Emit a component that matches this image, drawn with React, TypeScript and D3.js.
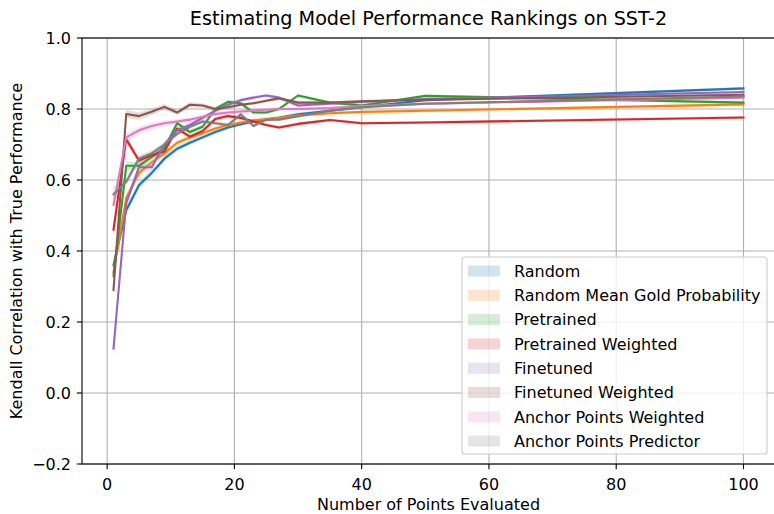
import React from "react";
import * as d3 from "d3";

const W = 774;
const H = 514;

const xValues = [1, 3, 5, 7, 9, 11, 13, 15, 17, 19, 21, 23, 25, 27, 30, 35, 40, 50, 100];

const seriesNames = [
  "Random",
  "Random Mean Gold Probability",
  "Pretrained",
  "Pretrained Weighted",
  "Finetuned",
  "Finetuned Weighted",
  "Anchor Points Weighted",
  "Anchor Points Predictor",
];

const seriesColors = ["#1f77b4", "#ff7f0e", "#2ca02c", "#d62728", "#9467bd", "#8c564b", "#e377c2", "#7f7f7f"];

const randomVals = [0.36, 0.515, 0.585, 0.62, 0.66, 0.688, 0.705, 0.72, 0.735, 0.748, 0.757, 0.765, 0.77, 0.775, 0.785, 0.795, 0.805, 0.825, 0.858];
const randomGoldVals = [0.34, 0.55, 0.62, 0.65, 0.675, 0.705, 0.72, 0.732, 0.745, 0.755, 0.762, 0.768, 0.772, 0.775, 0.782, 0.788, 0.792, 0.795, 0.813];
const pretrainedVals = [0.33, 0.64, 0.64, 0.665, 0.69, 0.76, 0.735, 0.75, 0.8, 0.82, 0.816, 0.79, 0.79, 0.8, 0.838, 0.818, 0.81, 0.837, 0.818];
const pretrainedWVals = [0.46, 0.715, 0.655, 0.67, 0.68, 0.745, 0.722, 0.738, 0.772, 0.78, 0.775, 0.765, 0.755, 0.748, 0.758, 0.769, 0.76, 0.762, 0.776];
const finetunedVals = [0.125, 0.535, 0.636, 0.636, 0.7, 0.74, 0.755, 0.775, 0.795, 0.812, 0.825, 0.832, 0.838, 0.832, 0.81, 0.815, 0.82, 0.828, 0.848];
const finetunedWVals = [0.29, 0.786, 0.78, 0.792, 0.806, 0.79, 0.812, 0.81, 0.8, 0.805, 0.812, 0.816, 0.823, 0.83, 0.818, 0.818, 0.822, 0.826, 0.84];
const anchorWVals = [0.53, 0.72, 0.74, 0.752, 0.76, 0.765, 0.77, 0.778, 0.786, 0.79, 0.793, 0.796, 0.798, 0.8, 0.8, 0.803, 0.808, 0.815, 0.832];
const anchorPVals = [0.56, 0.595, 0.66, 0.675, 0.7, 0.73, 0.75, 0.765, 0.76, 0.755, 0.785, 0.752, 0.77, 0.77, 0.78, 0.795, 0.805, 0.815, 0.835];

const bandHalfWidth = [0.02, 0.012, 0.01, 0.009, 0.008, 0.007, 0.007, 0.006, 0.006, 0.006, 0.005, 0.005, 0.005, 0.005, 0.005, 0.004, 0.004, 0.004, 0.004];

const allSeries = [randomVals, randomGoldVals, pretrainedVals, pretrainedWVals, finetunedVals, finetunedWVals, anchorWVals, anchorPVals];

const xTicks = [0, 20, 40, 60, 80, 100];
const yTicks = [-0.2, 0.0, 0.2, 0.4, 0.6, 0.8, 1.0];

const title = "Estimating Model Performance Rankings on SST-2";
const xLabel = "Number of Points Evaluated";
const yLabel = "Kendall Correlation with True Performance";

export default function App() {
  const left = 82, right = 775, top = 38, bottom = 464;
  const x = d3.scaleLinear().domain([-3.95, 104.95]).range([left, right]);
  const y = d3.scaleLinear().domain([-0.2, 1.0]).range([bottom, top]);
  const font = "DejaVu Sans, sans-serif";
  const fs = 16;

  const line = d3.line<number>().x((_, i) => x(xValues[i])).y((v) => y(v));
  const area = d3
    .area<number>()
    .x((_, i) => x(xValues[i]))
    .y0((v, i) => y(v - bandHalfWidth[i]))
    .y1((v, i) => y(v + bandHalfWidth[i]));

  const legX = 462, legY = 257, legW = 305, legH = 197;
  const rowStep = 24.3;

  return (
    <svg width={W} height={H} style={{ position: "absolute", left: 0, top: 0 }} fontFamily={font}>
      <rect x={0} y={0} width={W} height={H} fill="#fff" />
      <defs>
        <clipPath id="plotclip">
          <rect x={left} y={top} width={right - left} height={bottom - top} />
        </clipPath>
      </defs>
      {xTicks.map((t) => (
        <line key={"gx" + t} x1={x(t)} x2={x(t)} y1={top} y2={bottom} stroke="#b0b0b0" strokeWidth={1.1} />
      ))}
      {yTicks.map((t) => (
        <line key={"gy" + t} x1={left} x2={right} y1={y(t)} y2={y(t)} stroke="#b0b0b0" strokeWidth={1.1} />
      ))}
      <g clipPath="url(#plotclip)">
        {allSeries.map((s, k) => (
          <path key={"a" + k} d={area(s) || ""} fill={seriesColors[k]} fillOpacity={0.2} stroke="none" />
        ))}
        {allSeries.map((s, k) => (
          <path key={"l" + k} d={line(s) || ""} fill="none" stroke={seriesColors[k]} strokeWidth={2.1} strokeLinejoin="round" strokeLinecap="square" />
        ))}
      </g>
      <rect x={left} y={top} width={right - left} height={bottom - top} fill="none" stroke="#000" strokeWidth={1.1} />
      {xTicks.map((t) => (
        <g key={"tx" + t}>
          <line x1={x(t)} x2={x(t)} y1={bottom} y2={bottom + 5.2} stroke="#000" strokeWidth={1.1} />
          <text x={x(t)} y={bottom + 26} textAnchor="middle" fontSize={fs} fill="#000">
            {d3.format("d")(t)}
          </text>
        </g>
      ))}
      {yTicks.map((t) => (
        <g key={"ty" + t}>
          <line x1={left - 5.2} x2={left} y1={y(t)} y2={y(t)} stroke="#000" strokeWidth={1.1} />
          <text x={left - 11} y={y(t) + 5.8} textAnchor="end" fontSize={fs} fill="#000">
            {t < 0 ? "\u2212" + Math.abs(t).toFixed(1) : t.toFixed(1)}
          </text>
        </g>
      ))}
      <text x={(left + right) / 2} y={25} textAnchor="middle" fontSize={19.2} fill="#000">
        {title}
      </text>
      <text x={(left + right) / 2} y={510} textAnchor="middle" fontSize={fs} fill="#000">
        {xLabel}
      </text>
      <text transform={`translate(21.5, ${(top + bottom) / 2}) rotate(-90)`} textAnchor="middle" fontSize={fs} fill="#000">
        {yLabel}
      </text>
      <rect x={legX} y={legY} width={legW} height={legH} rx={3} fill="#fff" fillOpacity={0.8} stroke="#cccccc" strokeWidth={1.1} />
      {seriesNames.map((name, k) => {
        const cy = legY + 14 + k * rowStep;
        return (
          <g key={"lg" + k}>
            <rect x={468} y={cy - 5.5} width={32} height={11} fill={seriesColors[k]} fillOpacity={0.2} />
            <text x={514} y={cy + 5.8} fontSize={fs} fill="#000">
              {name}
            </text>
          </g>
        );
      })}
    </svg>
  );
}
